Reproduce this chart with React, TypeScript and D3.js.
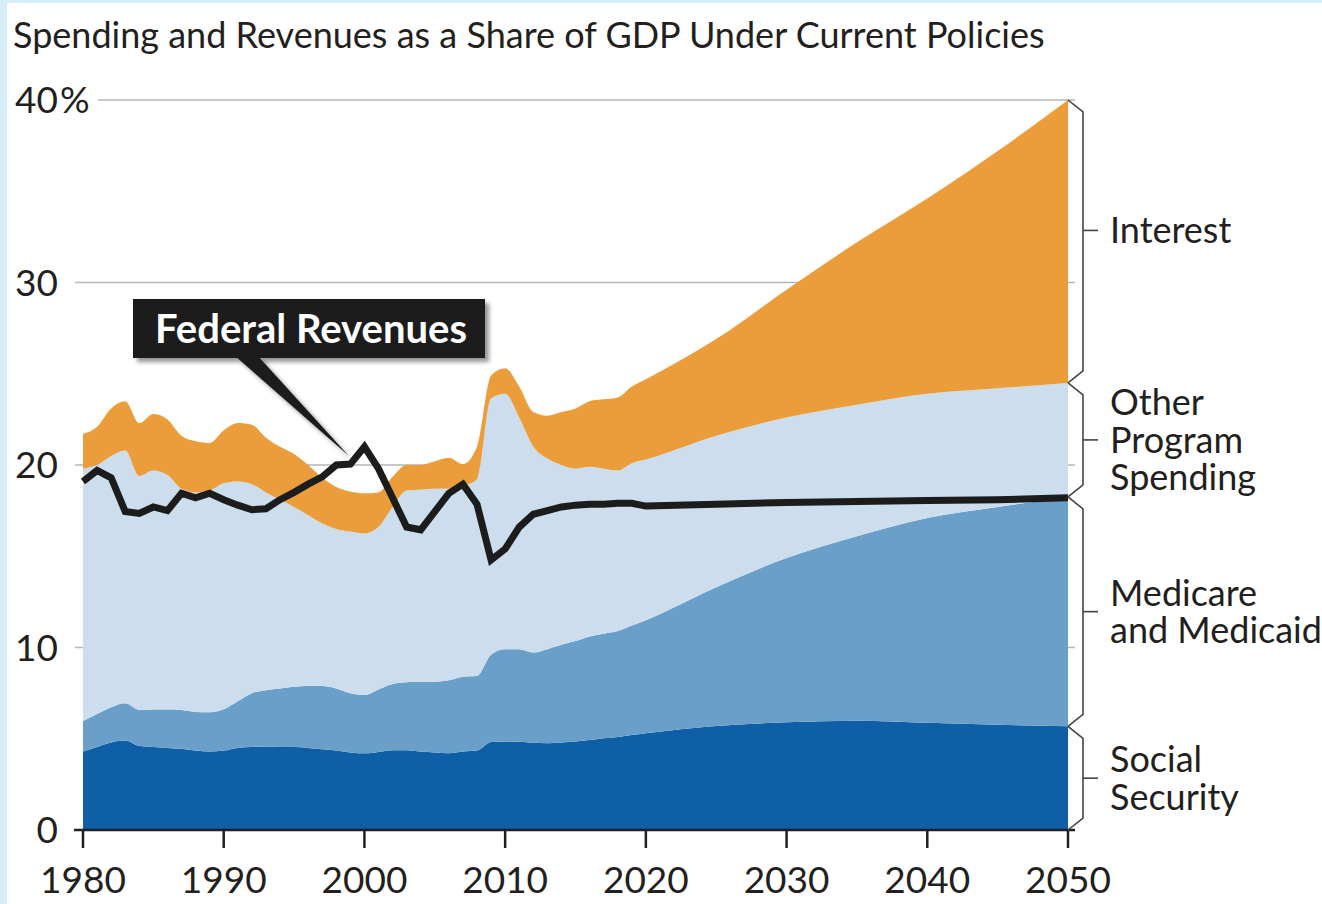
import React, { useMemo } from "react";
import * as d3 from "d3";

// ---------- data (share of GDP, %) ----------
const years = [
  1980, 1981, 1982, 1983, 1984, 1985, 1986, 1987, 1988, 1989,
  1990, 1991, 1992, 1993, 1994, 1995, 1996, 1997, 1998, 1999,
  2000, 2001, 2002, 2003, 2004, 2005, 2006, 2007, 2008, 2009,
  2010, 2011, 2012, 2013, 2014, 2015, 2016, 2017, 2018, 2019,
  2020, 2025, 2030, 2035, 2040, 2045, 2050,
];

const socialSecurity = [
  4.3, 4.55, 4.8, 4.9, 4.6, 4.55, 4.5, 4.45, 4.35, 4.3,
  4.35, 4.5, 4.55, 4.58, 4.55, 4.55, 4.5, 4.42, 4.35, 4.25,
  4.2, 4.28, 4.37, 4.37, 4.3, 4.25, 4.2, 4.3, 4.35, 4.82,
  4.85, 4.83, 4.78, 4.76, 4.8, 4.85, 4.93, 5.03, 5.1, 5.2,
  5.3, 5.7, 5.9, 5.99, 5.88, 5.77, 5.68,
];

const medicareMedicaid = [
  1.67, 1.8, 1.92, 2.04, 1.98, 2.05, 2.1, 2.13, 2.12, 2.15,
  2.26, 2.55, 2.95, 3.08, 3.21, 3.3, 3.41, 3.47, 3.41, 3.24,
  3.2, 3.42, 3.63, 3.73, 3.82, 3.88, 4.0, 4.1, 4.09, 4.78,
  5.05, 5.07, 4.94, 5.14, 5.35, 5.5, 5.67, 5.72, 5.8, 6.0,
  6.2, 7.6, 9.0, 10.11, 11.22, 11.93, 12.57,
];

const otherProgram = [
  13.83, 13.65, 13.78, 13.86, 12.82, 13.1, 12.85, 12.12, 12.03, 12.15,
  12.39, 12.05, 11.45, 10.84, 10.34, 9.85, 9.34, 8.91, 8.74, 8.86,
  8.85, 8.9, 9.7, 10.5, 10.53, 10.57, 10.5, 10.45, 10.76, 14.05,
  14.0, 12.7, 11.28, 10.45, 9.85, 9.45, 9.3, 9.05, 8.8, 8.9,
  8.8, 8.3, 7.7, 7.2, 6.8, 6.5, 6.25,
];

const netInterest = [
  1.9, 2.1, 2.6, 2.7, 2.9, 3.1, 3.05, 2.9, 2.8, 2.6,
  2.9, 3.2, 3.25, 3.0, 2.9, 2.9, 2.75, 2.5, 2.3, 2.2,
  2.2, 1.9, 1.65, 1.4, 1.35, 1.5, 1.7, 1.2, 1.8, 1.25,
  1.4, 1.7, 1.9, 2.35, 2.9, 3.3, 3.6, 3.8, 4.0, 4.2,
  4.4, 5.3, 7.0, 8.9, 10.7, 13.0, 15.5,
];

const federalRevenues = [
  19.1, 19.7, 19.3, 17.45, 17.35, 17.7, 17.5, 18.45, 18.2, 18.45,
  18.1, 17.8, 17.55, 17.6, 18.1, 18.5, 18.95, 19.35, 20.0, 20.05,
  21.0, 19.8, 18.2, 16.6, 16.45, 17.45, 18.45, 18.95, 17.85, 14.8,
  15.4, 16.6, 17.3, 17.5, 17.7, 17.8, 17.85, 17.85, 17.9, 17.9,
  17.75, 17.85, 17.95, 18.0, 18.05, 18.1, 18.2,
];

const xTicks = [1980, 1990, 2000, 2010, 2020, 2030, 2040, 2050];
const yTicks = [0, 10, 20, 30, 40];
const seriesKeys = ["socialSecurity", "medicare", "other", "interest"];
const seriesLabels = [
  ["Social", "Security"],
  ["Medicare", "and Medicaid"],
  ["Other", "Program", "Spending"],
  ["Interest"],
];
const seriesColors = ["#0e5fa5", "#6a9fca", "#ccdeed", "#eb9d3b"];
const titleText = "Spending and Revenues as a Share of GDP Under Current Policies";
const calloutText = "Federal Revenues";

// ---------- layout ----------
const W = 1322;
const H = 904;
const FONT = "Lato, 'Open Sans', sans-serif";
const TEXT = "#231f20";
const labelShift = [0, 0, 0, -11];

export default function App() {
  const x = d3.scaleLinear().domain([1980, 2050]).range([83, 1068]);
  const y = d3.scaleLinear().domain([0, 40]).range([830, 100]);

  const rows = useMemo(
    () =>
      years.map((yr, i) => ({
        year: yr,
        socialSecurity: socialSecurity[i],
        medicare: medicareMedicaid[i],
        other: otherProgram[i],
        interest: netInterest[i],
      })),
    []
  );

  const stacked = d3.stack<any>().keys(seriesKeys)(rows);
  const area = d3
    .area<any>()
    .x((d) => x(d.data.year))
    .y0((d) => y(d[0]))
    .y1((d) => y(d[1]))
    .curve(d3.curveMonotoneX);

  const revLine = d3
    .line<number>()
    .x((_, i) => x(years[i]))
    .y((d) => y(d))
    .curve(d3.curveLinear);

  const last = rows.length - 1;
  const braceX0 = x(2050);
  const braceX1 = braceX0 + 15;

  return (
    <svg
      width={W}
      height={H}
      style={{ position: "absolute", left: 0, top: 0, display: "block" }}
      fontFamily={FONT}
    >
      <defs>
        <filter id="shadow" x="-10%" y="-10%" width="130%" height="140%">
          <feDropShadow dx="4" dy="4" stdDeviation="2" floodColor="#7a7a7a" floodOpacity="0.8" />
        </filter>
      </defs>
      <rect x={0} y={0} width={W} height={H} fill="#d5edf7" />
      <rect x={7} y={3} width={W - 7} height={H - 3} fill="#ffffff" />

      <text x={13} y={48} fontSize={36} fill={TEXT}>
        {titleText}
      </text>

      {/* gridlines */}
      {yTicks
        .filter((t) => t > 0)
        .map((t) => (
          <line
            key={t}
            x1={t === 40 ? 98 : 75}
            x2={1075}
            y1={y(t)}
            y2={y(t)}
            stroke="#b5b5b5"
            strokeWidth={1.6}
          />
        ))}

      {/* stacked areas */}
      {stacked.map((s, i) => (
        <path key={s.key} d={area(s as any) || ""} fill={seriesColors[i]} />
      ))}

      {/* revenue line */}
      <path
        d={revLine(federalRevenues) || ""}
        fill="none"
        stroke="#1c1c1c"
        strokeWidth={7}
        strokeLinejoin="miter"
        strokeMiterlimit={6}
      />

      {/* x axis */}
      <line x1={74} x2={1075} y1={y(0)} y2={y(0)} stroke="#231f20" strokeWidth={2.5} />
      {xTicks.map((t) => (
        <g key={t}>
          <line x1={x(t)} x2={x(t)} y1={y(0)} y2={y(0) + 18} stroke="#231f20" strokeWidth={2.5} />
          <text x={x(t)} y={893} fontSize={37} textAnchor="middle" fill={TEXT}>
            {t}
          </text>
        </g>
      ))}

      {/* y labels */}
      {yTicks.map((t) => (
        <g key={t}>
          <text x={58} y={y(t) + 13} fontSize={37} textAnchor="end" fill={TEXT}>
            {t}
          </text>
          {t === 40 && (
            <text x={60} y={y(t) + 13} fontSize={37} fill={TEXT}>
              %
            </text>
          )}
        </g>
      ))}

      {/* braces + labels */}
      {stacked.map((s, i) => {
        const top = y(s[last][1]);
        const bot = y(s[last][0]);
        const mid = (top + bot) / 2 + labelShift[i];
        const lines = seriesLabels[i];
        const lh = 37.5;
        const first = mid - ((lines.length - 1) * lh) / 2 + 13;
        const d = `M${braceX0},${top} L${braceX1},${top + 12} L${braceX1},${bot - 12} L${braceX0},${bot}`;
        return (
          <g key={s.key}>
            <path d={d} fill="none" stroke="#444" strokeWidth={1.6} />
            <line x1={braceX1} x2={braceX1 + 15} y1={mid} y2={mid} stroke="#444" strokeWidth={1.6} />
            <text x={1110} y={first} fontSize={36} fill={TEXT}>
              {lines.map((l, j) => (
                <tspan key={j} x={1110} y={first + j * lh}>
                  {l}
                </tspan>
              ))}
            </text>
          </g>
        );
      })}

      {/* callout */}
      <g filter="url(#shadow)">
        <polygon points={`235,356 258,356 ${x(1998.9)},${y(20.5)}`} fill="#1a1a1a" />
        <rect x={133} y={299} width={352} height={59} fill="#1a1a1a" />
      </g>
      <text x={311} y={343} fontSize={40} fontWeight={700} textAnchor="middle" fill="#ffffff">
        {calloutText}
      </text>
    </svg>
  );
}
